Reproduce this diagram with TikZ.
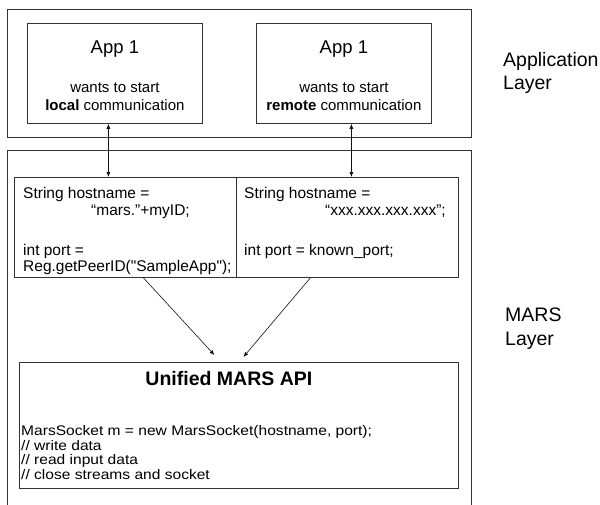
\documentclass[tikz,border=0pt]{standalone}
\usepackage{fontspec}
\setmainfont{Liberation Sans}[Ligatures=TeXOff]
\newfontfamily\wideapi{Liberation Sans}[Ligatures=TeXOff, FakeStretch=1.12]
\usetikzlibrary{arrows.meta, positioning, calc}
\definecolor{boxclr}{HTML}{333333}
\definecolor{arrclr}{HTML}{111111}
\tikzset{
  layer/.style={rectangle, draw=boxclr, line width=0.8pt},
  appbox/.style={
    rectangle, draw=boxclr, line width=0.8pt,
    minimum width=175pt, minimum height=100pt, inner sep=0pt
  },
  codebox/.style={
    rectangle, draw=boxclr, line width=0.8pt,
    minimum width=222pt, minimum height=100pt, inner sep=0pt
  },
  apibox/.style={
    rectangle, draw=boxclr, line width=0.8pt,
    minimum width=439pt, minimum height=126pt, inner sep=0pt
  },
  apptitle/.style={font=\fontsize{18.5pt}{22pt}\selectfont, anchor=base, inner sep=0pt},
  apptxt/.style={font=\fontsize{15pt}{18pt}\selectfont, anchor=base, inner sep=0pt},
  code/.style={font=\fontsize{15.5pt}{16.8pt}\selectfont, align=left, anchor=north west, inner sep=0pt},
  apicode/.style={font=\wideapi\fontsize{13.9pt}{14.8pt}\selectfont, align=left, anchor=north west, inner sep=0pt},
  lbl/.style={font=\fontsize{19.5pt}{23.5pt}\selectfont, align=left, anchor=north west, inner sep=0pt},
  arr/.style={-{Latex[length=5pt,width=4pt]}, line width=0.6pt, arrclr},
  dblarr/.style={{Latex[length=5pt,width=4pt]}-{Latex[length=5pt,width=4pt]}, line width=0.6pt, arrclr},
}
\begin{document}
\begin{tikzpicture}[x=1pt, y=-1pt]
\useasboundingbox (0,0) rectangle (600,504);

% --- Layers ---
\node[layer, anchor=north west, minimum width=464pt, minimum height=128pt] (applayer) at (7,9) {};
\node[layer, anchor=north west, minimum width=464pt, minimum height=356pt] (marslayer) at (7,150) {};
\node[lbl] (applbl) at (503,52) {Application\\Layer};
\node[lbl] (marslbl) at (505,308) {MARS\\Layer};

% --- Applications ---
\node[appbox, anchor=north west] (app1) at (27,23) {};
\node[appbox, anchor=north west] (app2) at (256,23) {};
\node[apptitle] (app1t) at ([yshift=-30pt]app1.north) {App 1};
\node[apptxt] (app1a) at ([yshift=-69pt]app1.north) {wants to start};
\node[apptxt] (app1b) at ([yshift=-87pt]app1.north) {\textbf{local} communication};
\node[apptitle] (app2t) at ([yshift=-30pt]app2.north) {App 1};
\node[apptxt] (app2a) at ([yshift=-69pt]app2.north) {wants to start};
\node[apptxt] (app2b) at ([yshift=-87pt]app2.north) {\textbf{remote} communication};

% --- Address setup ---
\node[codebox, anchor=north west] (codeL) at (14,177) {};
\node[codebox, anchor=north west] (codeR) at (236,177) {};
\node[code] (codeLt) at ([xshift=9pt,yshift=-10.5pt]codeL.north west)
  {String hostname =\\\hspace*{68pt}“mars.”+myID;\\[22.5pt]int port =\\Reg.getPeerID("SampleApp");};
\node[code] (codeRt) at ([xshift=8pt,yshift=-10.5pt]codeR.north west)
  {String hostname =\\\hspace*{81pt}“xxx.xxx.xxx.xxx”;\\[22.5pt]int port = known\_port;};

% --- Unified API ---
\node[apibox, anchor=north west] (api) at (19,362) {};
\node[apptitle, font=\fontsize{19.5pt}{22pt}\selectfont\bfseries] (apit) at ([xshift=-10pt,yshift=-23pt]api.north) {Unified MARS API};
\node[apicode] (apic) at ([xshift=2pt,yshift=-63pt]api.north west)
  {MarsSocket m = new MarsSocket(hostname, port);\\// write data\\// read input data\\// close streams and socket};

% --- Connectors ---
\draw[dblarr] ([xshift=-6.5pt]app1.south) -- ([xshift=-6.5pt]app1.south |- codeL.north);
\draw[dblarr] ([xshift=7.5pt]app2.south) -- ([xshift=7.5pt]app2.south |- codeR.north);
\draw[arr] ([xshift=18pt]codeL.south) -- ([xshift=-24.5pt,yshift=7pt]api.north);
\draw[arr] ([xshift=-37pt]codeR.south) -- ([xshift=4.5pt,yshift=5pt]api.north);

\end{tikzpicture}
\end{document}
